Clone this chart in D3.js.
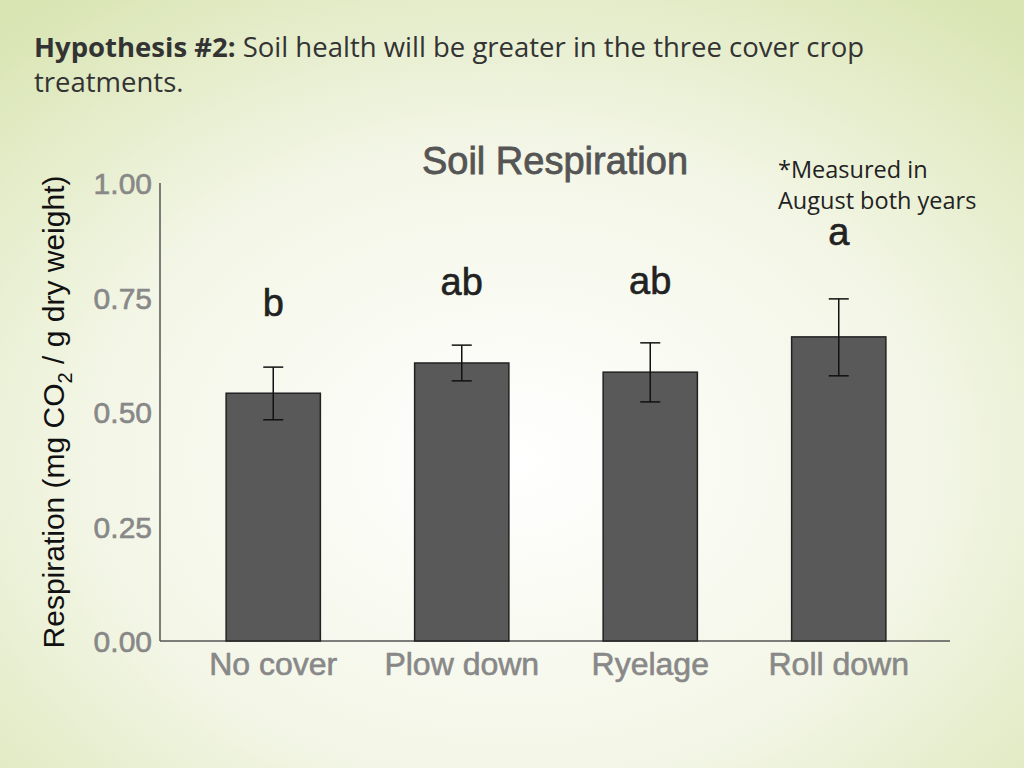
<!DOCTYPE html>
<html><head><meta charset="utf-8">
<script src="https://cdn.jsdelivr.net/npm/d3@7"></script>
<style>body{margin:0;overflow:hidden}</style>
</head><body>
<svg id="chart" width="1024" height="768"></svg>
<script>
var categories = ["No cover", "Plow down", "Ryelage", "Roll down"];
var means = [0.541, 0.607, 0.587, 0.664];
var errLow = [0.483, 0.568, 0.522, 0.579];
var errHigh = [0.598, 0.646, 0.651, 0.747];
var letters = ["b", "ab", "ab", "a"];
var letterY = [0.71, 0.755, 0.757, 0.865];
var yTicks = [0, 0.25, 0.5, 0.75, 1.0];

var svg = d3.select("#chart");
var defs = svg.append("defs");
var grad = defs.append("radialGradient").attr("id", "bg")
    .attr("cx", "50%").attr("cy", "60%").attr("r", "75%");
grad.append("stop").attr("offset", "0%").attr("stop-color", "#ffffff");
grad.append("stop").attr("offset", "55%").attr("stop-color", "#f3f6e6");
grad.append("stop").attr("offset", "100%").attr("stop-color", "#d9e5b3");
svg.append("rect").attr("width", 1024).attr("height", 768).attr("fill", "url(#bg)");

var head = svg.append("text").attr("x", 34).attr("y", 57)
    .attr("font-family", "Open Sans").attr("font-size", 27.5).attr("fill", "#333");
head.append("tspan").attr("font-weight", "bold").text("Hypothesis #2:");
head.append("tspan").text(" Soil health will be greater in the three cover crop");
svg.append("text").attr("x", 34).attr("y", 92)
    .attr("font-family", "Open Sans").attr("font-size", 27.5).attr("fill", "#333")
    .text("treatments.");

var note = svg.append("g").attr("font-family", "Open Sans").attr("font-size", 23.5).attr("fill", "#222");
note.append("text").attr("x", 778).attr("y", 178).text("*Measured in");
note.append("text").attr("x", 778).attr("y", 209).text("August both years");

var y = d3.scaleLinear().domain([0, 1]).range([641, 183]);
var x = d3.scaleBand().domain(categories).range([179, 933]).paddingInner(0.5).paddingOuter(0.25);

var font = "Liberation Sans, Arial, sans-serif";

svg.append("line").attr("x1", 160).attr("x2", 160).attr("y1", y(1)).attr("y2", y(0))
    .attr("stroke", "#555").attr("stroke-width", 1.5);
svg.append("line").attr("x1", 160).attr("x2", 950).attr("y1", y(0)).attr("y2", y(0))
    .attr("stroke", "#555").attr("stroke-width", 1.5);

svg.selectAll(".yt").data(yTicks).enter().append("text")
    .attr("x", 152).attr("y", function(d){ return y(d) + 11; })
    .attr("text-anchor", "end").attr("font-family", font).attr("font-size", 30)
    .attr("fill", "#888").attr("stroke", "#888").attr("stroke-width", 0.6)
    .text(function(d){ return d3.format(".2f")(d); });

svg.selectAll(".bar").data(categories).enter().append("rect")
    .attr("x", function(d){ return x(d); })
    .attr("width", x.bandwidth())
    .attr("y", function(d, i){ return y(means[i]); })
    .attr("height", function(d, i){ return y(0) - y(means[i]); })
    .attr("fill", "#595959").attr("stroke", "#222").attr("stroke-width", 1.5);

var eb = svg.selectAll(".eb").data(categories).enter().append("g")
    .attr("stroke", "#111").attr("stroke-width", 1.5);
eb.append("line")
    .attr("x1", function(d){ return x(d) + x.bandwidth()/2; })
    .attr("x2", function(d){ return x(d) + x.bandwidth()/2; })
    .attr("y1", function(d, i){ return y(errLow[i]); })
    .attr("y2", function(d, i){ return y(errHigh[i]); });
[errLow, errHigh].forEach(function(arr){
    eb.append("line")
        .attr("x1", function(d){ return x(d) + x.bandwidth()/2 - 10; })
        .attr("x2", function(d){ return x(d) + x.bandwidth()/2 + 10; })
        .attr("y1", function(d, i){ return y(arr[i]); })
        .attr("y2", function(d, i){ return y(arr[i]); });
});

svg.selectAll(".let").data(categories).enter().append("text")
    .attr("x", function(d){ return x(d) + x.bandwidth()/2; })
    .attr("y", function(d, i){ return y(letterY[i]); })
    .attr("text-anchor", "middle").attr("font-family", font).attr("font-size", 38)
    .attr("fill", "#222").attr("stroke", "#222").attr("stroke-width", 0.6)
    .text(function(d, i){ return letters[i]; });

svg.selectAll(".xl").data(categories).enter().append("text")
    .attr("x", function(d){ return x(d) + x.bandwidth()/2; })
    .attr("y", 675).attr("text-anchor", "middle")
    .attr("font-family", font).attr("font-size", 32).attr("fill", "#888")
    .attr("stroke", "#888").attr("stroke-width", 0.6)
    .text(function(d){ return d; });

svg.append("text").attr("x", 555).attr("y", 174).attr("text-anchor", "middle")
    .attr("font-family", font).attr("font-size", 38).attr("fill", "#555")
    .attr("stroke", "#555").attr("stroke-width", 0.8)
    .text("Soil Respiration");

var yl = svg.append("text").attr("transform", "translate(64,412) rotate(-90)")
    .attr("text-anchor", "middle").attr("font-family", font).attr("font-size", 30).attr("fill", "#111");
yl.append("tspan").text("Respiration (mg CO");
yl.append("tspan").attr("font-size", 20).attr("dy", 8).text("2");
yl.append("tspan").attr("dy", -8).text(" / g dry weight)");
</script>
</body></html>
